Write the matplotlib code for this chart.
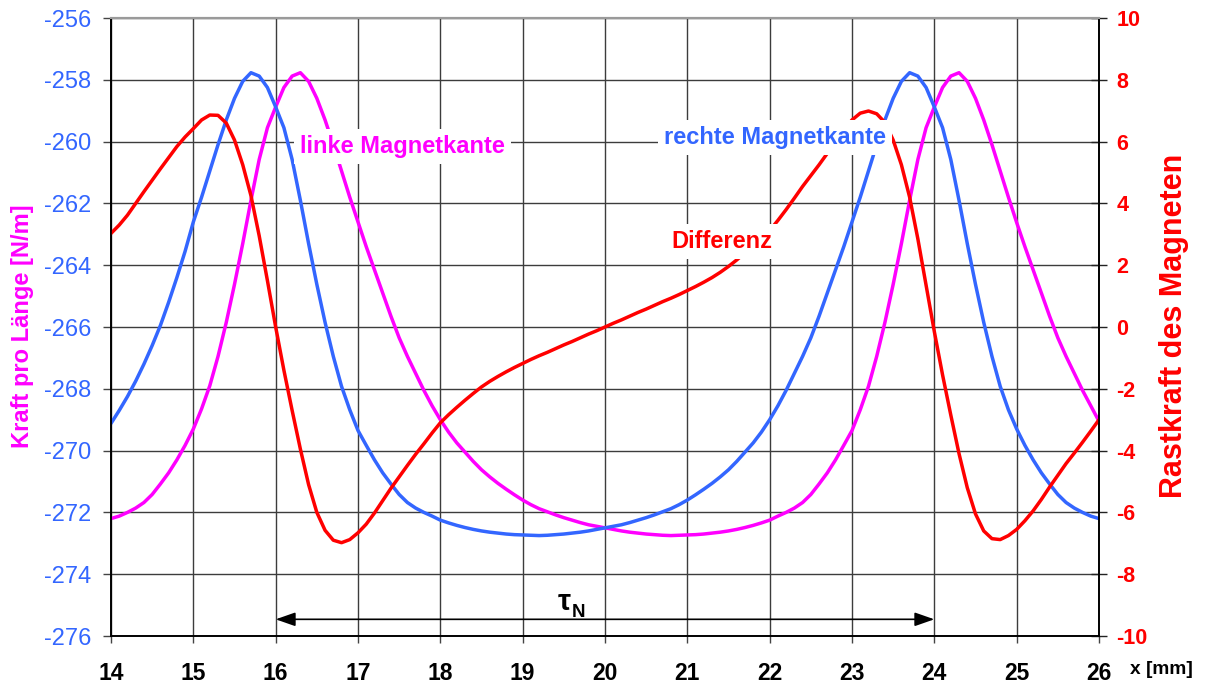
import matplotlib
matplotlib.use("Agg")
import matplotlib.pyplot as plt

plt.rcParams['font.family'] = ['Liberation Sans', 'DejaVu Sans']
plt.rcParams['axes.unicode_minus'] = False

# position along the magnet [mm], sampled every 0.1 mm
x_mm = [round(14.0 + 0.1 * i, 1) for i in range(121)]

# force per length at the left magnet edge [N/m]
linke_kante = [
    -272.20, -272.12, -272.00, -271.86, -271.68, -271.42, -271.08, -270.72, -270.30, -269.83,  # 14.0-14.9
    -269.30, -268.65, -267.90, -266.95, -265.85, -264.62, -263.30, -261.90, -260.58, -259.55,  # 15.0-15.9
    -258.88, -258.25, -257.88, -257.77, -258.05, -258.60, -259.30, -260.10, -260.95, -261.80,  # 16.0-16.9
    -262.60, -263.40, -264.15, -264.90, -265.65, -266.35, -266.95, -267.50, -268.05, -268.55,  # 17.0-17.9
    -269.00, -269.40, -269.75, -270.05, -270.35, -270.62, -270.85, -271.06, -271.25, -271.43,  # 18.0-18.9
    -271.60, -271.75, -271.88, -271.98, -272.08, -272.17, -272.25, -272.33, -272.40, -272.45,  # 19.0-19.9
    -272.50, -272.55, -272.60, -272.64, -272.67, -272.70, -272.72, -272.74, -272.75, -272.74,  # 20.0-20.9
    -272.73, -272.72, -272.70, -272.67, -272.64, -272.60, -272.55, -272.49, -272.42, -272.34,  # 21.0-21.9
    -272.25, -272.12, -272.00, -271.86, -271.68, -271.42, -271.08, -270.72, -270.30, -269.83,  # 22.0-22.9
    -269.35, -268.68, -267.92, -266.95, -265.85, -264.62, -263.30, -261.90, -260.58, -259.55,  # 23.0-23.9
    -258.88, -258.25, -257.88, -257.77, -258.05, -258.60, -259.30, -260.10, -260.95, -261.80,  # 24.0-24.9
    -262.62, -263.40, -264.15, -264.90, -265.65, -266.35, -266.95, -267.50, -268.05, -268.55,  # 25.0-25.9
    -269.05,                                                                                   # 26.0
]

# force per length at the right magnet edge [N/m]
rechte_kante = [
    -269.12, -268.70, -268.25, -267.75, -267.20, -266.60, -265.95, -265.20, -264.40, -263.55,  # 14.0-14.9
    -262.60, -261.80, -260.95, -260.10, -259.30, -258.60, -258.05, -257.77, -257.88, -258.25,  # 15.0-15.9
    -258.88, -259.55, -260.58, -261.90, -263.30, -264.62, -265.85, -266.95, -267.92, -268.68,  # 16.0-16.9
    -269.35, -269.83, -270.30, -270.72, -271.08, -271.42, -271.68, -271.86, -272.00, -272.12,  # 17.0-17.9
    -272.25, -272.34, -272.42, -272.49, -272.55, -272.60, -272.64, -272.67, -272.70, -272.72,  # 18.0-18.9
    -272.73, -272.74, -272.75, -272.74, -272.72, -272.70, -272.67, -272.64, -272.60, -272.55,  # 19.0-19.9
    -272.50, -272.45, -272.40, -272.33, -272.25, -272.17, -272.08, -271.98, -271.88, -271.75,  # 20.0-20.9
    -271.60, -271.43, -271.25, -271.06, -270.85, -270.62, -270.35, -270.05, -269.75, -269.40,  # 21.0-21.9
    -269.00, -268.55, -268.05, -267.50, -266.95, -266.35, -265.65, -264.90, -264.15, -263.40,  # 22.0-22.9
    -262.60, -261.80, -260.95, -260.10, -259.30, -258.60, -258.05, -257.77, -257.88, -258.25,  # 23.0-23.9
    -258.88, -259.55, -260.58, -261.90, -263.30, -264.62, -265.85, -266.95, -267.92, -268.68,  # 24.0-24.9
    -269.30, -269.83, -270.30, -270.72, -271.08, -271.42, -271.68, -271.86, -272.00, -272.12,  # 25.0-25.9
    -272.20,                                                                                   # 26.0
]

# cogging force of the magnet (difference of both edges)
differenz = [
    3.03, 3.30, 3.62, 4.00, 4.38, 4.75, 5.12, 5.48, 5.84, 6.15,            # 14.0-14.9
    6.42, 6.70, 6.86, 6.85, 6.60, 6.05, 5.25, 4.25, 2.95, 1.50,            # 15.0-15.9
    0.00, -1.40, -2.70, -3.95, -5.10, -6.00, -6.58, -6.90, -6.98, -6.88,   # 16.0-16.9
    -6.66, -6.38, -6.02, -5.62, -5.22, -4.85, -4.48, -4.12, -3.78, -3.43,  # 17.0-17.9
    -3.10, -2.84, -2.60, -2.37, -2.15, -1.94, -1.76, -1.60, -1.45, -1.31,  # 18.0-18.9
    -1.18, -1.05, -0.93, -0.82, -0.70, -0.58, -0.47, -0.35, -0.23, -0.12,  # 19.0-19.9
    0.00, 0.12, 0.23, 0.35, 0.47, 0.58, 0.70, 0.82, 0.93, 1.05,            # 20.0-20.9
    1.18, 1.31, 1.45, 1.60, 1.77, 1.96, 2.17, 2.40, 2.62, 2.86,            # 21.0-21.9
    3.12, 3.45, 3.80, 4.17, 4.55, 4.90, 5.25, 5.62, 6.00, 6.38,            # 22.0-22.9
    6.70, 6.92, 6.99, 6.90, 6.62, 6.05, 5.25, 4.20, 2.85, 1.35,            # 23.0-23.9
    -0.15, -1.55, -2.85, -4.10, -5.20, -6.05, -6.60, -6.85, -6.88, -6.75,  # 24.0-24.9
    -6.55, -6.27, -5.95, -5.58, -5.18, -4.80, -4.42, -4.08, -3.73, -3.37,  # 25.0-25.9
    -3.00,                                                                 # 26.0
]

x_ticks = list(range(14, 27))
left_ticks = list(range(-276, -255, 2))
right_ticks = list(range(-10, 11, 2))

MAGENTA = '#ff00ff'
BLUE = '#3366ff'
RED = '#ff0000'

W, H = 1207, 684
fig = plt.figure(figsize=(W / 100, H / 100), dpi=100)
ax = fig.add_axes([111 / W, 48 / H, 988 / W, 618 / H])

ax.set_xlim(14, 26)
ax.set_ylim(-276, -256)
ax.set_xticks(x_ticks)
ax.set_yticks(left_ticks)
ax.grid(True, color='#3c3c3c', lw=1.0)
ax.set_axisbelow(True)

ax.plot(x_mm, linke_kante, color=MAGENTA, lw=2.5, solid_capstyle='round', solid_joinstyle='round')
ax.plot(x_mm, rechte_kante, color=BLUE, lw=2.5, solid_capstyle='round', solid_joinstyle='round')

ax.tick_params(axis='y', direction='out', length=6, width=1, color='#444444',
               labelcolor=BLUE, labelsize=17, pad=8)
ax.tick_params(axis='x', direction='out', length=5, width=1, color='#444444',
               labelsize=16.5, pad=14)
for lbl in ax.get_xticklabels():
    lbl.set_fontweight('bold')

ax2 = ax.twinx()
ax2.set_ylim(-10, 10)
ax2.set_yticks(right_ticks)
ax2.plot(x_mm, differenz, color=RED, lw=2.5, solid_capstyle='round', solid_joinstyle='round')
ax2.tick_params(axis='y', direction='inout', length=11, width=1, color='#222222',
                labelcolor=RED, labelsize=15.5, pad=7)
for lbl in ax2.get_yticklabels():
    lbl.set_fontweight('bold')

for a in (ax, ax2):
    a.spines['top'].set_color('#9a9a9a')
    a.spines['top'].set_linewidth(1.5)
    for s in ('left', 'right', 'bottom'):
        a.spines[s].set_color('black')
        a.spines[s].set_linewidth(1.2)

box = dict(boxstyle='square,pad=0.25', facecolor='white', edgecolor='none')
ax2.text(17.54, -260.38, 'linke Magnetkante', transform=ax.transData,
         ha='center', va='baseline', fontsize=17, fontweight='bold',
         color=MAGENTA, bbox=box, zorder=10)
ax2.text(22.065, -260.09, 'rechte Magnetkante', transform=ax.transData,
         ha='center', va='baseline', fontsize=17, fontweight='bold',
         color=BLUE, bbox=box, zorder=10)
ax2.text(21.42, -263.44, 'Differenz', transform=ax.transData,
         ha='center', va='baseline', fontsize=17, fontweight='bold',
         color=RED, bbox=box, zorder=10)

# pole pitch marker
ax2.annotate('', xy=(16, -275.46), xytext=(24, -275.46),
             xycoords=ax.transData, textcoords=ax.transData,
             arrowprops=dict(arrowstyle='<|-|>,head_length=1.0,head_width=0.35',
                             color='black', lw=1.2, shrinkA=0, shrinkB=0,
                             mutation_scale=12))
ax2.text(19.50, -275.16, 'τ', transform=ax.transData, ha='center', va='baseline',
         fontsize=21, fontweight='bold', color='black')
ax2.text(19.60, -275.37, 'N', transform=ax.transData, ha='left', va='baseline',
         fontsize=13.5, fontweight='bold', color='black')

fig.text(23 / W, 1 - 326.5 / H, 'Kraft pro Länge [N/m]', rotation=90,
         ha='center', va='center', fontsize=17, fontweight='bold', color=MAGENTA)
fig.text(1174 / W, 1 - 326 / H, 'Rastkraft des Magneten', rotation=90,
         ha='center', va='center', fontsize=22, fontweight='bold', color=RED)
fig.text(1161.5 / W, 1 - 669 / H, 'x [mm]', ha='center', va='center',
         fontsize=13.8, fontweight='bold', color='black')

fig.savefig('out.png', dpi=100)
